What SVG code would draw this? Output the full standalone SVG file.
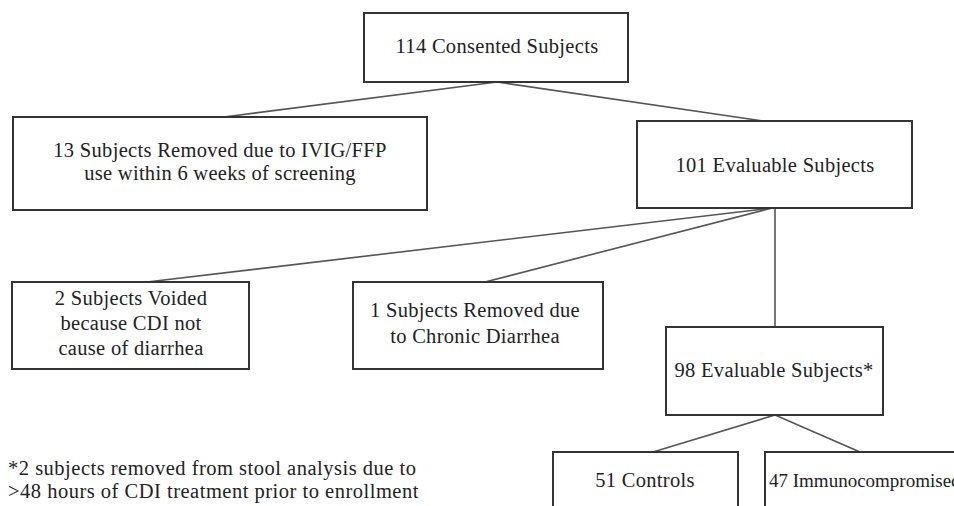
<svg xmlns="http://www.w3.org/2000/svg" width="954" height="506" viewBox="0 0 954 506">
<style>
.box{fill:#fff;stroke:#333;stroke-width:2}
.t{font-family:'Liberation Serif','Times New Roman',serif;font-size:20.5px;letter-spacing:0.3px;fill:#222;text-anchor:middle}
.fn{font-family:'Liberation Serif','Times New Roman',serif;font-size:20.5px;letter-spacing:0.5px;fill:#222}
.c{stroke:#555;stroke-width:1.6;fill:none}
</style>
<rect width="954" height="506" fill="#fff"/>
<g id="connectors">
<line class="c" x1="497" y1="82" x2="224" y2="117"/>
<line class="c" x1="497" y1="82" x2="763" y2="121"/>
<line class="c" x1="772" y1="208" x2="147" y2="282"/>
<line class="c" x1="772" y1="208" x2="485" y2="282"/>
<line class="c" x1="775" y1="208" x2="775" y2="327"/>
<line class="c" x1="775" y1="415" x2="653" y2="452"/>
<line class="c" x1="775" y1="415" x2="860" y2="452"/>
</g>
<g id="n114">
<rect class="box" x="364" y="13" width="264" height="69"/>
<text class="t" x="497" y="53">114 Consented Subjects</text>
</g>
<g id="n13">
<rect class="box" x="13" y="117" width="414" height="93"/>
<text class="t" x="220" y="157">13 Subjects Removed due to IVIG/FFP</text>
<text class="t" x="220" y="180">use within 6 weeks of screening</text>
</g>
<g id="n101">
<rect class="box" x="637" y="121" width="275" height="87"/>
<text class="t" x="775" y="172">101 Evaluable Subjects</text>
</g>
<g id="n2">
<rect class="box" x="12" y="282" width="237" height="87"/>
<text class="t" x="131" y="305">2 Subjects Voided</text>
<text class="t" x="131" y="330">because CDI not</text>
<text class="t" x="131" y="355">cause of diarrhea</text>
</g>
<g id="n1">
<rect class="box" x="353" y="282" width="250" height="87"/>
<text class="t" x="475" y="317">1 Subjects Removed due</text>
<text class="t" x="475" y="343">to Chronic Diarrhea</text>
</g>
<g id="n98">
<rect class="box" x="666" y="327" width="217" height="88"/>
<text class="t" x="774" y="377">98 Evaluable Subjects*</text>
</g>
<g id="n51">
<rect class="box" x="553" y="452" width="185" height="70"/>
<text class="t" x="645" y="487">51 Controls</text>
</g>
<g id="n47">
<rect class="box" x="765" y="452" width="200" height="70"/>
<text class="t" x="769" y="487" style="text-anchor:start;font-size:19px;letter-spacing:0">47 Immunocompromised</text>
</g>
<g id="footnote">
<text class="fn" x="8" y="475">*2 subjects removed from stool analysis due to</text>
<text class="fn" x="8" y="498">&gt;48 hours of CDI treatment prior to enrollment</text>
</g>
</svg>
